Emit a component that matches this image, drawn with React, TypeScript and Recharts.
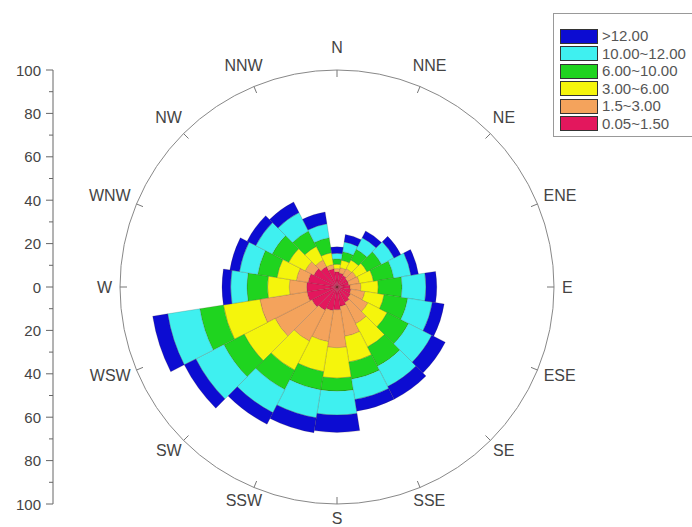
import React from "react"
import {
  RadialBarChart,
  RadialBar,
  RadarChart,
  PolarGrid,
  PolarAngleAxis,
  PolarRadiusAxis,
  LineChart,
  XAxis,
  YAxis,
} from "recharts"

// 20 direction bins, 18 degrees each, clockwise from north
const bins = ["0", "18", "36", "54", "72", "90", "108", "126", "144", "162", "180", "198", "216", "234", "252", "270", "288", "306", "324", "342"]

// frequency (%) per speed class, stacked from the centre out
const speed0 = [7, 6.5, 6, 5.5, 5.5, 6, 6.5, 7, 8, 9, 10.5, 11, 12, 13, 14, 14, 13.5, 12, 10.5, 8.5]
const speed1 = [1.5, 2.5, 3.5, 4.5, 5, 5, 6.5, 9, 11, 14, 17.5, 14.5, 16, 19, 22, 8, 5.5, 4.5, 3.5, 2]
const speed2 = [2, 3.5, 4.5, 5.5, 6.5, 8, 9, 10, 12, 12, 14, 14, 15, 16, 17, 10, 9, 8.5, 7, 5.5]
const speed3 = [2.5, 4, 5.5, 7.5, 9.5, 11, 11, 11, 10, 8, 6, 8.5, 10, 10.5, 11, 9.5, 9, 8.5, 8, 7]
const speed4 = [2.5, 4.5, 6, 6.5, 8, 11, 11.5, 12, 10.5, 9.5, 11, 13, 12, 14.5, 15, 7.5, 8.5, 8.5, 9.5, 6.5]
const speed5 = [3, 3.5, 3.5, 3.5, 3.5, 5, 5.5, 7, 6.5, 5.5, 8, 7, 6, 6, 7, 4, 4.5, 4.5, 5.5, 5.5]

const classes = ["0.05~1.50", "1.5~3.00", "3.00~6.00", "6.00~10.00", "10.00~12.00", ">12.00"]
const colors = ["#e3175d", "#f4a35c", "#f5f50c", "#1fd41f", "#3ff0f0", "#0c0cd2"]

const compass = ["N", "NNE", "NE", "ENE", "E", "ESE", "SE", "SSE", "S", "SSW", "SW", "WSW", "W", "WNW", "NW", "NNW"]
const leftTicks = [-100, -90, -80, -70, -60, -50, -40, -30, -20, -10, 0, 10, 20, 30, 40, 50, 60, 70, 80, 90, 100]

const W = 692
const H = 527
const CX = 337
const CY = 287
const R = 217
const FONT = "'Liberation Sans', Arial, sans-serif"
const LABEL_SIZE = 16
const CHAR_W: Record<string, number> = { N: 0.722, E: 0.667, S: 0.667, W: 0.944 }

const series = [speed0, speed1, speed2, speed3, speed4, speed5]
const rose = bins.map((b, i) => {
  const row: Record<string, number | string> = { dir: b }
  series.forEach((s, k) => (row["s" + k] = s[i]))
  return row
})
const frame = compass.map((c) => ({ name: c }))

function CompassTick(props: any) {
  const label: string = props.payload.value
  const a = (props.payload.coordinate * Math.PI) / 180
  const c = Math.cos(a)
  const s = Math.sin(a)
  const w = label.split("").reduce((t, ch) => t + (CHAR_W[ch] || 0.7) * LABEL_SIZE, 0)
  const h = 12
  const rd = 225
  const x = CX + c * (rd + w / 2)
  const y = CY - s * (rd + h / 2) - (s > 0 ? 9 * s : 0)
  return (
    <g>
      <line x1={CX + R * c} y1={CY - R * s} x2={CX + (R - 7) * c} y2={CY - (R - 7) * s} stroke="#777" />
      <text x={x} y={y} textAnchor="middle" dominantBaseline="central" fontSize={LABEL_SIZE} fill="#444" fontFamily={FONT}>
        {label}
      </text>
    </g>
  )
}

function LeftTick(props: any) {
  const v = props.payload.value
  const major = v % 20 === 0
  return (
    <g>
      <line x1={53} x2={major ? 46 : 49} y1={props.y} y2={props.y} stroke="#666" />
      {major && (
        <text x={41} y={props.y} textAnchor="end" dominantBaseline="central" fontSize={15} fill="#444" fontFamily={FONT}>
          {Math.abs(v)}
        </text>
      )}
    </g>
  )
}

export default function App() {
  return (
    <div style={{ position: "absolute", left: 0, top: 0, width: W, height: H, overflow: "hidden", background: "#fff" }}>
      <div style={{ position: "absolute", left: 0, top: 0 }}>
        <RadarChart width={W} height={H} cx={CX} cy={CY} outerRadius={R} data={frame} margin={{ top: 0, right: 0, bottom: 0, left: 0 }}>
          <PolarGrid gridType="circle" stroke="#e4e4e4" />
          <PolarRadiusAxis type="number" domain={[0, 100]} ticks={[20, 40, 60, 80, 100]} tick={false} axisLine={false} />
          <PolarAngleAxis dataKey="name" axisLine={{ stroke: "#888" }} axisLineType="circle" tickLine={false} tick={CompassTick} />
        </RadarChart>
      </div>
      <div style={{ position: "absolute", left: 0, top: 0 }}>
        <RadialBarChart
          width={W}
          height={H}
          cx={CX}
          cy={CY}
          innerRadius={0}
          outerRadius={R}
          startAngle={81}
          endAngle={-279}
          layout="centric"
          data={rose}
          barCategoryGap="0%"
          barGap={0}
          margin={{ top: 0, right: 0, bottom: 0, left: 0 }}
        >
          <PolarAngleAxis type="category" dataKey="dir" tick={false} axisLine={false} tickLine={false} />
          <PolarRadiusAxis type="number" domain={[0, 100]} tick={false} axisLine={false} />
          {classes.map((c, k) => (
            <RadialBar
              key={c}
              dataKey={"s" + k}
              name={c}
              stackId="wind"
              fill={colors[k]}
              stroke="rgba(60,40,20,0.3)"
              strokeWidth={0.6}
              isAnimationActive={false}
            />
          ))}
        </RadialBarChart>
      </div>
      <div style={{ position: "absolute", left: 0, top: 0 }}>
        <LineChart width={60} height={H} data={leftTicks.map((v) => ({ v }))} margin={{ top: 70, right: 0, bottom: 23, left: 0 }}>
          <XAxis hide />
          <YAxis
            type="number"
            domain={[-100, 100]}
            allowDataOverflow
            ticks={leftTicks}
            interval={0}
            width={53}
            axisLine={{ stroke: "#666" }}
            tickLine={false}
            tick={LeftTick}
          />
        </LineChart>
      </div>
      <div
        style={{
          position: "absolute",
          left: 553,
          top: 13,
          width: 150,
          height: 122,
          border: "1px solid #999",
          fontFamily: FONT,
          fontSize: 15,
          color: "#555",
        }}
      >
        {classes
          .map((c, k) => ({ c, k }))
          .reverse()
          .map(({ c, k }, row) => (
            <div key={c} style={{ position: "absolute", left: 6, top: 14 + row * 17.5, height: 16, display: "flex", alignItems: "center" }}>
              <span style={{ width: 36, height: 13, background: colors[k], border: "1px solid #333", display: "inline-block" }} />
              <span style={{ marginLeft: 4, lineHeight: "16px" }}>{c}</span>
            </div>
          ))}
      </div>
    </div>
  )
}
